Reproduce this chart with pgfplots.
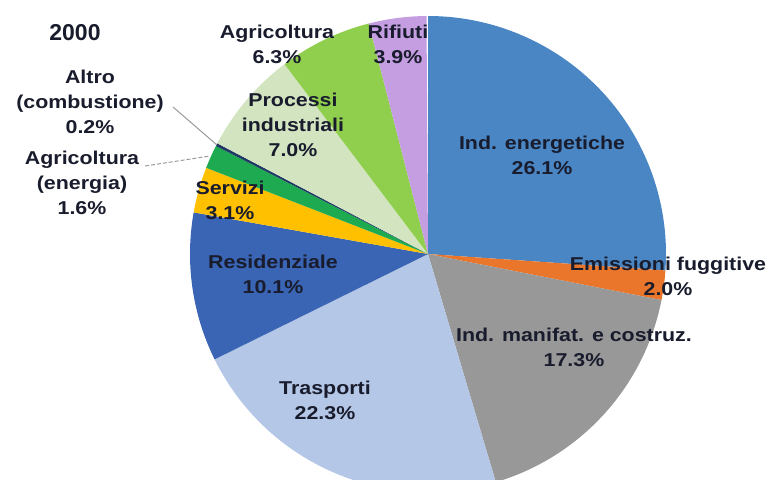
\documentclass[border=0pt]{standalone}
\usepackage{pgfplots}
\pgfplotsset{compat=1.18}
\usepackage{pgfplotstable}
\usepackage{fontspec}
\setmainfont{Liberation Sans}[FakeStretch=1.15]
\newfontfamily\plainfont{Liberation Sans}

\definecolor{c0}{RGB}{74,134,196}
\definecolor{c1}{RGB}{234,118,44}
\definecolor{c2}{RGB}{152,152,152}
\definecolor{c3}{RGB}{181,199,230}
\definecolor{c4}{RGB}{58,100,180}
\definecolor{c5}{RGB}{255,192,0}
\definecolor{c6}{RGB}{30,170,80}
\definecolor{c7}{RGB}{31,56,100}
\definecolor{c8}{RGB}{211,228,192}
\definecolor{c9}{RGB}{144,207,78}
\definecolor{c10}{RGB}{196,158,224}
\definecolor{txt}{RGB}{25,28,45}

\pgfplotstableread[col sep=comma]{
name,value
Ind. energetiche,26.1
Emissioni fuggitive,2.0
Ind. manifat. e costruz.,17.3
Trasporti,22.3
Residenziale,10.1
Servizi,3.1
Agricoltura (energia),1.6
Altro (combustione),0.2
Processi industriali,7.0
Agricoltura,6.3
Rifiuti,3.9
}\piedata

\begin{document}
\begin{tikzpicture}[lbl/.style={font=\bfseries\fontsize{9.3}{12.5}\selectfont, text=txt, align=center, inner sep=0pt}]
\begin{axis}[
  scale only axis, width=385.5pt, height=239.5pt,
  xmin=0, xmax=771, ymin=0, ymax=479, y dir=reverse,
  hide axis, clip=true,
]
\pgfplotstablegetrowsof{\piedata}
\pgfmathtruncatemacro\N{\pgfplotsretval-1}
\def\cum{0}
\pgfplotsforeachungrouped \i in {0,...,\N}{
  \pgfplotstablegetelem{\i}{value}\of\piedata
  \let\v\pgfplotsretval
  \pgfmathsetmacro\aS{90-3.6*\cum}
  \pgfmathsetmacro\aE{90-3.6*(\cum+\v)}
  \pgfmathsetmacro\cum{\cum+\v}
  \edef\temp{\noexpand\fill[c\i] (axis cs:428,254) -- ++(\aS:119pt) arc[start angle=\aS, end angle=\aE, radius=119pt] -- cycle;}
  \temp
}
% leader lines
\draw[gray!80, line width=0.5pt] (axis cs:173,107) -- (axis cs:217,145);
\draw[gray!80, line width=0.5pt, dash pattern=on 2pt off 1pt] (axis cs:145,166) -- (axis cs:210,156);
% labels
\node[lbl, font=\plainfont\bfseries\fontsize{11.5}{13}\selectfont] at (axis cs:75,33) {2000};
\node[lbl] at (axis cs:542,155.5) {Ind. energetiche\\26.1\%};
\node[lbl] at (axis cs:668,276.5) {Emissioni fuggitive\\2.0\%};
\node[lbl] at (axis cs:574,347.5) {Ind. manifat. e costruz.\\17.3\%};
\node[lbl] at (axis cs:325,400.5) {Trasporti\\22.3\%};
\node[lbl] at (axis cs:273,274.5) {Residenziale\\10.1\%};
\node[lbl] at (axis cs:230,200.5) {Servizi\\3.1\%};
\node[lbl] at (axis cs:82,183) {Agricoltura\\(energia)\\1.6\%};
\node[lbl] at (axis cs:90,102) {Altro\\(combustione)\\0.2\%};
\node[lbl] at (axis cs:293,125) {Processi\\industriali\\7.0\%};
\node[lbl] at (axis cs:277,44.5) {Agricoltura\\6.3\%};
\node[lbl] at (axis cs:398,44.5) {Rifiuti\\3.9\%};
\end{axis}
\path (current axis.south west) rectangle (current axis.north east);
\end{tikzpicture}
\end{document}
